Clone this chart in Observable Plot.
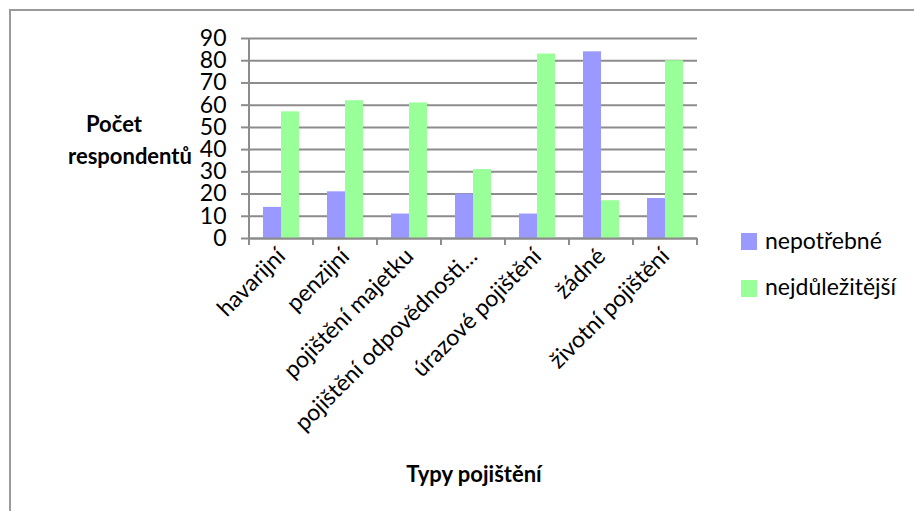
<!DOCTYPE html>
<html>
<head>
<meta charset="utf-8">
<script src="https://cdn.jsdelivr.net/npm/d3@7"></script>
<script src="https://cdn.jsdelivr.net/npm/@observablehq/plot@0.6"></script>
<style>
  html, body { margin: 0; padding: 0; background: #fff; }
  #wrap { position: relative; width: 914px; height: 511px; overflow: hidden; background: #fff; font-family: Lato, "Open Sans", sans-serif; color: #000; }
  #border { position: absolute; left: 9px; top: 9px; width: 1200px; height: 1200px; border: 2px solid #9a9a9a; box-sizing: border-box; }
  #chart { position: absolute; left: 0; top: 0; }
  .t { position: absolute; white-space: nowrap; }
  .title { font-weight: bold; font-size: 22px; line-height: 22px; transform: translateX(-50%); }
  .leg { font-size: 23px; line-height: 23px; }
  .sw { position: absolute; width: 16px; height: 17px; }
</style>
</head>
<body>
<div id="wrap">
  <div id="border"></div>
  <div id="chart"></div>
</div>
<script>
const categories = ["havarijní", "penzijní", "pojištění majetku", "pojištění odpovědnosti…", "úrazové pojištění", "žádné", "životní pojištění"];
const series = ["nepotřebné", "nejdůležitější"];
const nepotrebne = [14, 21, 11, 20, 11, 84, 18];
const nejdulezitejsi = [57, 62, 61, 31, 83, 17, 80];
const yTicks = [0, 10, 20, 30, 40, 50, 60, 70, 80, 90];
const colors = ["#9999FF", "#99FF99"];
const yTitleLines = ["Počet", "respondentů"];
const xTitle = "Typy pojištění";

const values = [nepotrebne, nejdulezitejsi];
const rows = [];
categories.forEach((c, i) => series.forEach((s, j) => rows.push({cat: c, series: s, value: values[j][i]})));

const gray = "#8c8c8c";
const plot = Plot.plot({
  width: 914, height: 511,
  marginLeft: 246, marginRight: 215, marginTop: 38, marginBottom: 273,
  style: {fontFamily: "Lato, 'Open Sans', sans-serif", fontSize: "23px", color: "#000", background: "transparent", overflow: "visible"},
  fx: {domain: categories, padding: 0, label: null, axis: null},
  x: {domain: series, paddingInner: 0, paddingOuter: 0.76, axis: null},
  y: {domain: [0, 90], label: null},
  color: {domain: series, range: colors},
  marks: [
    Plot.gridY(yTicks, {stroke: gray, strokeOpacity: 1, strokeWidth: 2}),
    Plot.barY(rows, {fx: "cat", x: "series", y: "value", fill: "series"}),
    Plot.ruleY([0], {stroke: gray, strokeWidth: 2}),
    Plot.axisY(yTicks, {tickSize: 8, tickPadding: 15, stroke: gray, strokeWidth: 2, fill: "#000", fontSize: 23, label: null}),
    Plot.axisFx({anchor: "bottom", tickRotate: -45, tickSize: 0, tickPadding: 14, fontSize: 23, fill: "#000", label: null})
  ]
});
document.getElementById("chart").appendChild(plot);

// y-axis line and category boundary ticks from Plot's own scales
const fx = plot.scale("fx"), y = plot.scale("y");
const svg = d3.select(plot);
const bounds = categories.map(c => fx.apply(c));
bounds.push(fx.apply(categories[categories.length - 1]) + fx.step);
const g = svg.append("g").attr("stroke", gray).attr("stroke-width", 2);
g.append("line").attr("x1", bounds[0]).attr("x2", bounds[0]).attr("y1", y.apply(0)).attr("y2", y.apply(yTicks[yTicks.length - 1]));
bounds.forEach(b => g.append("line").attr("x1", b).attr("x2", b).attr("y1", y.apply(0)).attr("y2", y.apply(0) + 7));

// titles and legend
const wrap = document.getElementById("wrap");
function addText(txt, cls, left, top) {
  const d = document.createElement("div");
  d.className = "t " + cls;
  d.textContent = txt;
  d.style.left = left + "px";
  d.style.top = top + "px";
  wrap.appendChild(d);
}
addText(yTitleLines[0], "title", 114, 113);
addText(yTitleLines[1], "title", 130, 145);
addText(xTitle, "title", 474, 463);
series.forEach((s, i) => {
  const sw = document.createElement("div");
  sw.className = "sw";
  sw.style.background = colors[i];
  sw.style.left = "741px";
  sw.style.top = (233 + i * 46.5) + "px";
  wrap.appendChild(sw);
  addText(s, "leg", 765, 228.5 + i * 46.5);
});
</script>
</body>
</html>
